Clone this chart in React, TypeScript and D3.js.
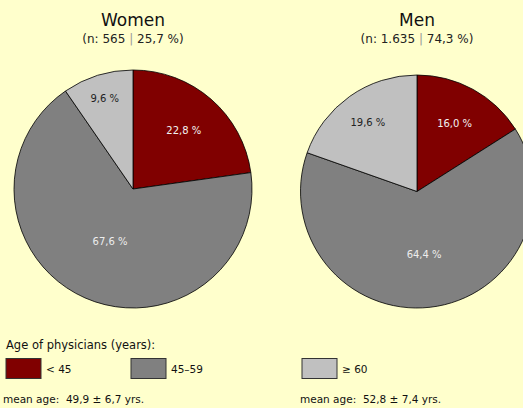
import React from "react";
import * as d3 from "d3";

const W = 523;
const H = 408;

const ageGroups = ["< 45", "45–59", "≥ 60"];
const groupColors = ["#800000", "#808080", "#C0C0C0"];
const labelColors = ["#F2F2F2", "#EDEDED", "#222222"];

const panelTitles = ["Women", "Men"];
const panelCounts = ["565", "1.635"];
const panelShares = ["25,7 %", "74,3 %"];
const womenValues = [22.8, 67.6, 9.6];
const menValues = [16.0, 64.4, 19.6];
const meanAges = ["mean age:  49,9 ± 6,7 yrs.", "mean age:  52,8 ± 7,4 yrs."];

const legendTitle = "Age of physicians (years):";

const FONT = "Tahoma, 'DejaVu Sans', Verdana, sans-serif";

type PieSpec = {
  values: number[];
  cx: number;
  cy: number;
  r: number;
  labelFrac: number[];
};

const fmt = (v: number) => d3.format(".1f")(v).replace(".", ",") + " %";

function Pie({ values, cx, cy, r, labelFrac }: PieSpec) {
  const pie = d3.pie<number>().sort(null).value((d) => d);
  const arcs = pie(values);
  const arc = d3.arc<d3.PieArcDatum<number>>().innerRadius(0).outerRadius(r);
  return (
    <g transform={`translate(${cx},${cy})`}>
      {arcs.map((a, i) => (
        <path key={i} d={arc(a) || ""} fill={groupColors[i]} stroke="#000" strokeWidth={0.8} />
      ))}
      {arcs.map((a, i) => {
        const lr = r * labelFrac[i];
        const c = d3.arc<d3.PieArcDatum<number>>().innerRadius(lr).outerRadius(lr).centroid(a);
        return (
          <text
            key={"l" + i}
            x={c[0]}
            y={c[1]}
            dy="0.35em"
            textAnchor="middle"
            fontSize={10}
            fill={labelColors[i]}
          >
            {fmt(a.data)}
          </text>
        );
      })}
    </g>
  );
}

export default function App() {
  const pies: PieSpec[] = [
    { values: womenValues, cx: 133, cy: 189, r: 119, labelFrac: [0.65, 0.48, 0.8] },
    { values: menValues, cx: 417, cy: 191.5, r: 116.5, labelFrac: [0.67, 0.54, 0.73] },
  ];
  const legendX = [6, 131, 302];
  return (
    <svg
      width={W}
      height={H}
      style={{ position: "absolute", left: 0, top: 0, display: "block" }}
      fontFamily={FONT}
    >
      <rect width={W} height={H} fill="#FFFFCC" />
      {pies.map((p, k) => (
        <g key={k}>
          <Pie {...p} />
          <text x={p.cx} y={26} textAnchor="middle" fontSize={17} fill="#111">
            {panelTitles[k]}
          </text>
          <text x={p.cx} y={43} textAnchor="middle" fontSize={12} fill="#222">
            <tspan>{`(n: ${panelCounts[k]} `}</tspan>
            <tspan fill="#999">|</tspan>
            <tspan>{` ${panelShares[k]})`}</tspan>
          </text>
        </g>
      ))}
      <text x={6} y={349} fontSize={11.5} fill="#111">
        {legendTitle}
      </text>
      {ageGroups.map((g, i) => (
        <g key={g}>
          <rect
            x={legendX[i]}
            y={358.5}
            width={35}
            height={20}
            fill={groupColors[i]}
            stroke="#333"
            strokeWidth={1}
          />
          <text x={legendX[i] + 40} y={373} fontSize={10.5} fill="#111">
            {g}
          </text>
        </g>
      ))}
      {meanAges.map((m, i) => (
        <text
          key={i}
          x={i === 0 ? 3 : 300}
          y={403}
          fontSize={10.5}
          fill="#111"
          style={{ whiteSpace: "pre" }}
        >
          {m}
        </text>
      ))}
    </svg>
  );
}
